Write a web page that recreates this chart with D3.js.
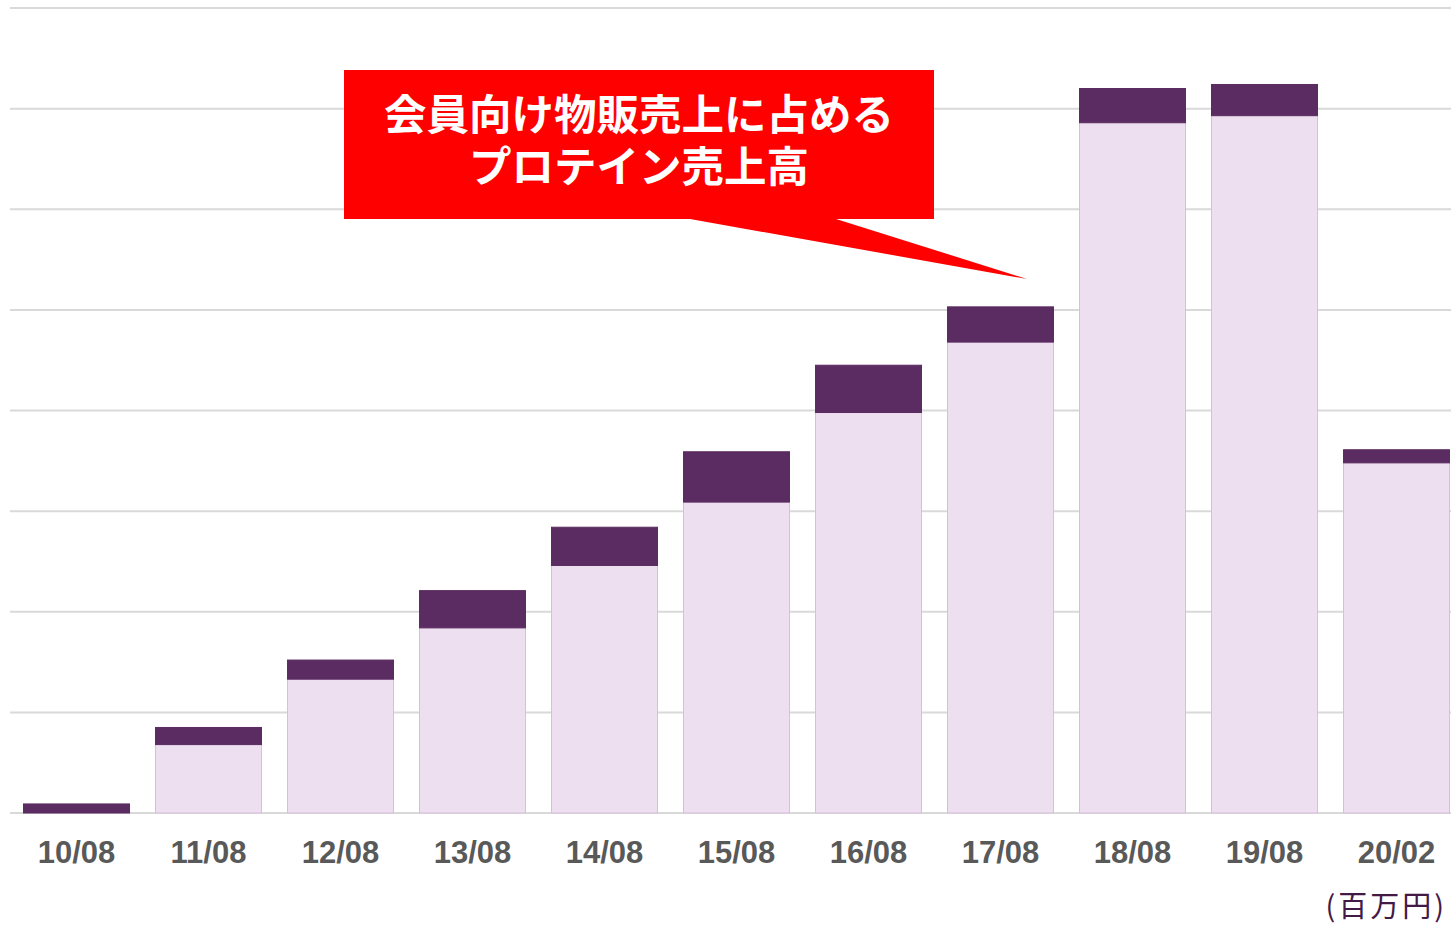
<!DOCTYPE html>
<html>
<head>
<meta charset="utf-8">
<script src="https://cdn.jsdelivr.net/npm/d3@7"></script>
<style>
  body { margin: 0; background: #fff; }
  svg { display: block; }
</style>
</head>
<body>
<div id="chart"></div>
<script>
// periods on the x axis
var periods = ["10/08", "11/08", "12/08", "13/08", "14/08", "15/08", "16/08", "17/08", "18/08", "19/08", "20/02"];
// other member sales (light part), in gridline units
var otherSales = [0.0, 0.68, 1.33, 1.84, 2.46, 3.09, 3.98, 4.68, 6.86, 6.93, 3.48];
// protein sales (dark part on top)
var proteinSales = [0.09, 0.17, 0.19, 0.37, 0.38, 0.50, 0.47, 0.35, 0.34, 0.31, 0.13];
var gridTicks = [0, 1, 2, 3, 4, 5, 6, 7, 8];
var calloutLines = ["会員向け物販売上に占める", "プロテイン売上高"];
var unitLabel = "(百万円)";

var width = 1451, height = 926;

var svg = d3.select("#chart")
  .append("svg")
  .attr("width", width)
  .attr("height", height);

var rows = periods.map(function(p, i) {
  return { period: p, other: otherSales[i], protein: proteinSales[i] };
});

// x and y scales
var xScale = d3.scaleBand()
  .domain(periods)
  .range([10.5, 1462.5])
  .paddingInner(0.197)
  .paddingOuter(0.0985);

var yScale = d3.scaleLinear()
  .domain([0, 8])
  .range([813, 8]);

// gridlines
svg.append("g")
  .selectAll("line")
  .data(gridTicks)
  .enter()
  .append("line")
  .attr("x1", 10)
  .attr("x2", width)
  .attr("y1", function(d) { return yScale(d); })
  .attr("y2", function(d) { return yScale(d); })
  .attr("stroke", "#d9d9d9")
  .attr("stroke-width", 2);

// stacked bars
var stack = d3.stack().keys(["other", "protein"]);
var series = stack(rows);
var colors = { other: "#eddfef", protein: "#5b2c61" };
var strokes = { other: "#d8bedb", protein: "#5b2c61" };

svg.append("g")
  .selectAll("g")
  .data(series)
  .enter()
  .append("g")
  .attr("fill", function(s) { return colors[s.key]; })
  .attr("stroke", function(s) { return strokes[s.key]; })
  .selectAll("rect")
  .data(function(s) { return s; })
  .enter()
  .append("rect")
  .attr("x", function(d) { return xScale(d.data.period); })
  .attr("y", function(d) { return yScale(d[1]); })
  .attr("width", xScale.bandwidth())
  .attr("height", function(d) { return Math.max(0, yScale(d[0]) - yScale(d[1])); })
  .attr("stroke-width", 1);

// x axis labels
var xAxis = d3.axisBottom(xScale).tickSize(0).tickPadding(0);
var gx = svg.append("g")
  .attr("transform", "translate(0,813)")
  .call(xAxis);
gx.select(".domain").remove();
gx.selectAll("text")
  .attr("y", 39)
  .attr("dy", "0.35em")
  .style("font-family", "Liberation Sans, Arial, sans-serif")
  .style("font-size", "31px")
  .style("font-weight", "bold")
  .attr("fill", "#595959");

// unit label
svg.append("text")
  .attr("x", 1447)
  .attr("y", 907)
  .attr("dy", "0.35em")
  .attr("text-anchor", "end")
  .style("font-family", "Noto Sans CJK JP, sans-serif")
  .style("font-size", "29px")
  .style("letter-spacing", "3px")
  .attr("fill", "#431a45")
  .text(unitLabel);

// callout box with pointer to 17/08 bar
var callout = svg.append("g");
callout.append("path")
  .attr("d", "M344,70 H934 V219 H836 L1027,279 L690,219 H344 Z")
  .attr("fill", "#ff0000");

callout.append("text")
  .attr("text-anchor", "middle")
  .style("font-family", "Noto Sans CJK JP, sans-serif")
  .style("font-size", "42.5px")
  .style("font-weight", "bold")
  .attr("fill", "#fff")
  .selectAll("tspan")
  .data(calloutLines)
  .enter()
  .append("tspan")
  .attr("x", 639)
  .attr("y", function(d, i) { return 115 + i * 52; })
  .attr("dy", "0.36em")
  .text(function(d) { return d; });
</script>
</body>
</html>
